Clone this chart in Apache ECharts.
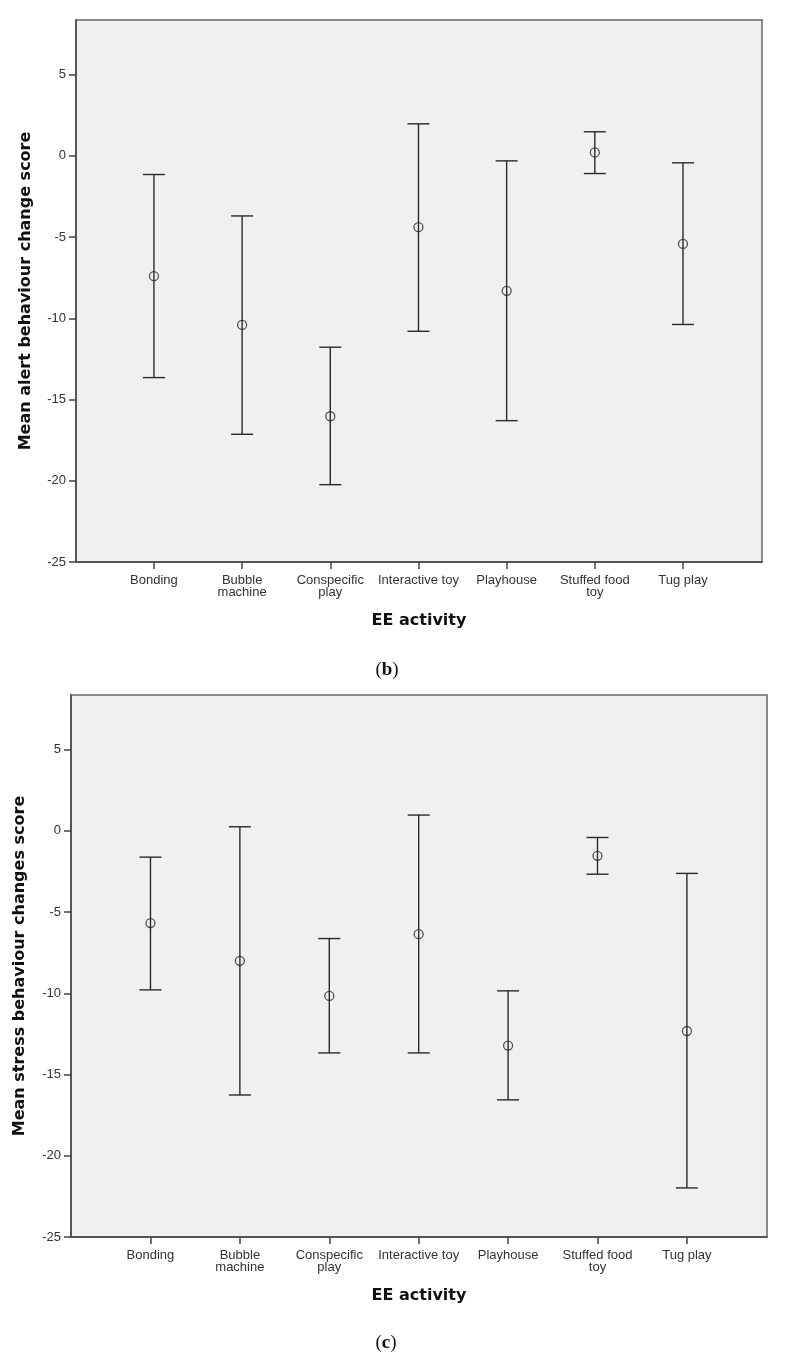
<!DOCTYPE html>
<html>
<head>
<meta charset="utf-8">
<script src="https://cdn.jsdelivr.net/npm/echarts@6/dist/echarts.min.js"></script>
<style>
html,body{margin:0;padding:0;background:#fff;}
#chart{width:789px;height:1364px;}
</style>
</head>
<body>
<div id="chart"></div>
<script>
// ---- data ----
const categories = ['Bonding', 'Bubble\nmachine', 'Conspecific\nplay', 'Interactive toy', 'Playhouse', 'Stuffed food\ntoy', 'Tug play'];
const yTicks = [-25, -20, -15, -10, -5, 0, 5];

// (b) alert behaviour change score
const alertMean  = [-7.41, -10.41, -16.03, -4.39, -8.31, 0.21, -5.42];
const alertLower = [-13.65, -17.14, -20.24, -10.80, -16.30, -1.09, -10.38];
const alertUpper = [-1.15, -3.70, -11.78, 1.97, -0.31, 1.48, -0.43];

// (c) stress behaviour changes score
const stressMean  = [-5.68, -8.00, -10.16, -6.36, -13.22, -1.54, -12.32];
const stressLower = [-9.79, -16.26, -13.67, -13.67, -16.56, -2.67, -21.98];
const stressUpper = [-1.62, 0.25, -6.63, 0.97, -9.85, -0.41, -2.62];

const catIdx = categories.map((c, i) => i);

const chart = echarts.init(document.getElementById('chart'), null, {renderer: 'canvas'});

const FONT = '"Liberation Sans", Arial, sans-serif';
const TITLE_FONT = '"DejaVu Sans", sans-serif';

function xAxisCfg(gridIndex, min, max) {
  return {
    type: 'value', gridIndex, min, max,
    name: 'EE activity', nameLocation: 'middle', nameGap: 51,
    nameTextStyle: {fontFamily: TITLE_FONT, fontWeight: 'bold', fontSize: 16, color: '#111'},
    splitLine: {show: false},
    axisLine: {show: true, onZero: false, lineStyle: {color: '#444', width: 1.5}},
    axisTick: {show: true, length: 7, lineStyle: {color: '#444', width: 1.5}, customValues: catIdx},
    axisLabel: {
      show: true, margin: 12, customValues: catIdx,
      formatter: v => categories[Math.round(v)],
      fontFamily: FONT, fontSize: 13, color: '#333', lineHeight: 12.5
    }
  };
}
function yAxisCfg(gridIndex, name, gap) {
  return {
    type: 'value', gridIndex, min: -25, max: 8.36,
    name, nameLocation: 'middle', nameGap: gap,
    nameTextStyle: {fontFamily: TITLE_FONT, fontWeight: 'bold', fontSize: 16, color: '#111'},
    splitLine: {show: false},
    axisLine: {show: true, onZero: false, lineStyle: {color: '#444', width: 1.5}},
    axisTick: {show: true, length: 7, lineStyle: {color: '#444', width: 1.5}, customValues: yTicks},
    axisLabel: {show: true, margin: 10, customValues: yTicks, fontFamily: FONT, fontSize: 13, color: '#333'}
  };
}

function errData(lower, upper) {
  return catIdx.map(i => [i, lower[i], upper[i]]);
}
function meanData(mean) {
  return catIdx.map(i => [i, mean[i]]);
}

function renderErr(params, api) {
  const x = api.value(0);
  const lo = api.coord([x, api.value(1)]);
  const hi = api.coord([x, api.value(2)]);
  const hw = 11;
  const style = {stroke: '#2a2a2a', lineWidth: 1.4, fill: null};
  return {
    type: 'group',
    children: [
      {type: 'line', shape: {x1: lo[0], y1: lo[1], x2: hi[0], y2: hi[1]}, style},
      {type: 'line', shape: {x1: hi[0] - hw, y1: hi[1], x2: hi[0] + hw, y2: hi[1]}, style},
      {type: 'line', shape: {x1: lo[0] - hw, y1: lo[1], x2: lo[0] + hw, y2: lo[1]}, style}
    ]
  };
}

const option = {
  backgroundColor: '#ffffff',
  animation: false,
  grid: [
    {left: 76, top: 20, width: 686, height: 542, show: true, backgroundColor: '#f0f0f0', borderColor: '#8a8a8a', borderWidth: 2},
    {left: 71, top: 695, width: 696, height: 542, show: true, backgroundColor: '#f0f0f0', borderColor: '#8a8a8a', borderWidth: 2}
  ],
  xAxis: [xAxisCfg(0, -0.884, 6.896), xAxisCfg(1, -0.889, 6.896)],
  yAxis: [
    yAxisCfg(0, 'Mean alert behaviour change score', 42),
    yAxisCfg(1, 'Mean stress behaviour changes score', 43)
  ],
  series: [
    {type: 'custom', xAxisIndex: 0, yAxisIndex: 0, renderItem: renderErr, data: errData(alertLower, alertUpper), encode: {x: 0, y: [1, 2]}, silent: true},
    {type: 'scatter', xAxisIndex: 0, yAxisIndex: 0, data: meanData(alertMean), symbol: 'circle', symbolSize: 9,
      itemStyle: {color: 'rgba(0,0,0,0)', borderColor: '#2a2a2a', borderWidth: 1.3}, z: 5, silent: true},
    {type: 'custom', xAxisIndex: 1, yAxisIndex: 1, renderItem: renderErr, data: errData(stressLower, stressUpper), encode: {x: 0, y: [1, 2]}, silent: true},
    {type: 'scatter', xAxisIndex: 1, yAxisIndex: 1, data: meanData(stressMean), symbol: 'circle', symbolSize: 9,
      itemStyle: {color: 'rgba(0,0,0,0)', borderColor: '#2a2a2a', borderWidth: 1.3}, z: 5, silent: true}
  ],
  graphic: [
    {type: 'text', x: 387, y: 670, style: {
      text: '{p|(}{b|b}{p|)}', align: 'center', verticalAlign: 'middle',
      rich: {p: {fontFamily: '"Liberation Serif", serif', fontSize: 19, fill: '#111'},
             b: {fontFamily: '"Liberation Serif", serif', fontSize: 19, fontWeight: 'bold', fill: '#111'}}
    }},
    {type: 'text', x: 386, y: 1343, style: {
      text: '{p|(}{b|c}{p|)}', align: 'center', verticalAlign: 'middle',
      rich: {p: {fontFamily: '"Liberation Serif", serif', fontSize: 19, fill: '#111'},
             b: {fontFamily: '"Liberation Serif", serif', fontSize: 19, fontWeight: 'bold', fill: '#111'}}
    }}
  ]
};
chart.setOption(option);
</script>
</body>
</html>
